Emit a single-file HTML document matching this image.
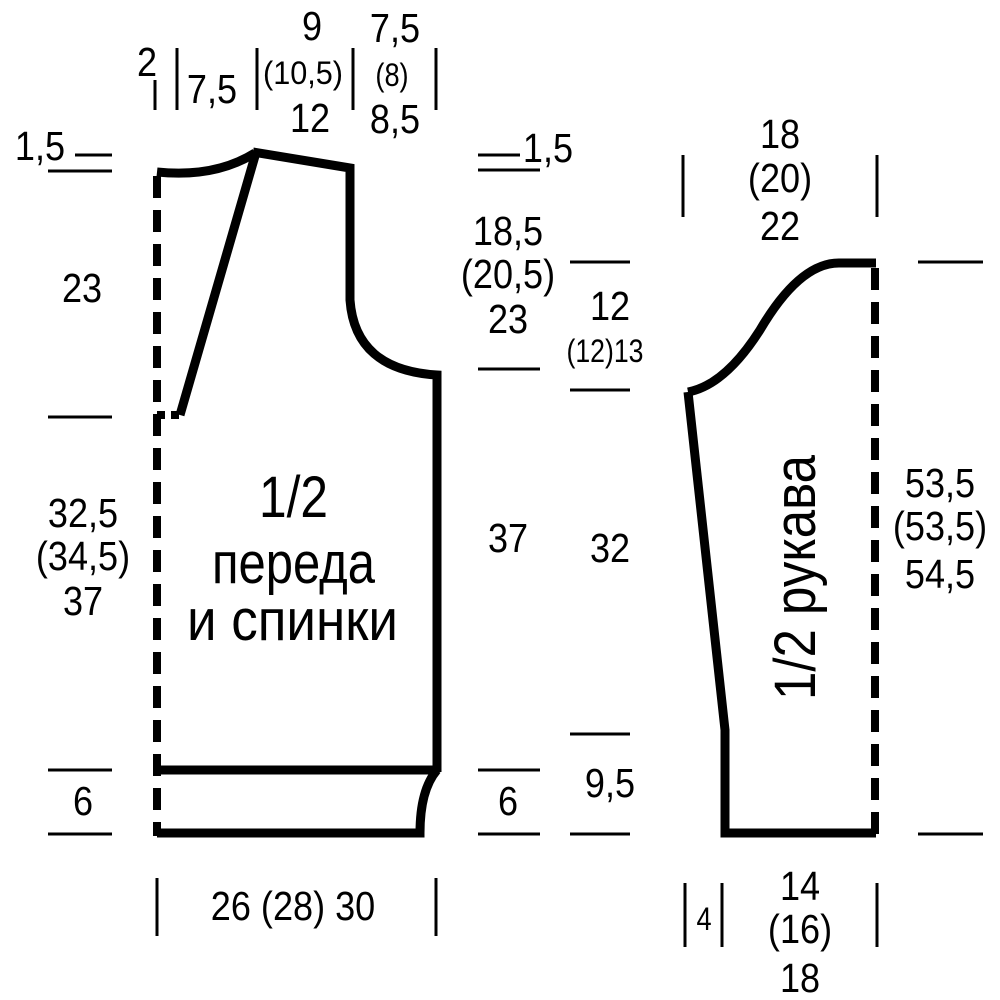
<!DOCTYPE html>
<html><head><meta charset="utf-8"><style>
html,body{margin:0;padding:0;background:#fff;}
svg{display:block;}
text{font-family:"Liberation Sans",sans-serif;fill:#000;}
</style></head><body>
<svg width="1000" height="1000" viewBox="0 0 1000 1000" xmlns="http://www.w3.org/2000/svg">
<g stroke="#000" fill="none" stroke-width="9" stroke-linejoin="miter">
<path d="M157,172 Q215,178 255,153"/>
<path d="M253,152 L350,168 L350,300 Q355,370 437,375 L437,772"/>
<path d="M255,156 L180,415"/>
<path d="M157,770 L437,770"/>
<path d="M437,770 Q420,790 420,833 L157,833"/>
<path d="M688,392 Q725,385 760,330 Q800,262 840,263 L876,263"/>
<path d="M688,392 L725,730 L725,833 L876,833"/>
</g>
<g stroke="#000" fill="none" stroke-width="8" stroke-dasharray="22,12">
<path d="M157,176 L157,836"/>
<path d="M875,268 L875,836"/>
<path d="M157,415 L182,415" stroke-dasharray="8,6"/>
</g>
<g stroke="#000" stroke-width="3">
<line x1="75" y1="155" x2="112" y2="155"/>
<line x1="48" y1="171" x2="112" y2="171"/>
<line x1="48" y1="417" x2="112" y2="417"/>
<line x1="48" y1="770" x2="112" y2="770"/>
<line x1="48" y1="834" x2="112" y2="834"/>
<line x1="478" y1="155" x2="520" y2="155"/>
<line x1="478" y1="170" x2="540" y2="170"/>
<line x1="478" y1="369" x2="540" y2="369"/>
<line x1="478" y1="770" x2="540" y2="770"/>
<line x1="478" y1="834" x2="540" y2="834"/>
<line x1="570" y1="262" x2="630" y2="262"/>
<line x1="570" y1="390" x2="630" y2="390"/>
<line x1="570" y1="734" x2="630" y2="734"/>
<line x1="570" y1="834" x2="630" y2="834"/>
<line x1="918" y1="262" x2="983" y2="262"/>
<line x1="918" y1="834" x2="983" y2="834"/>
<line x1="155" y1="80" x2="155" y2="110"/>
<line x1="177" y1="48" x2="177" y2="110"/>
<line x1="257" y1="48" x2="257" y2="110"/>
<line x1="353" y1="48" x2="353" y2="110"/>
<line x1="436" y1="48" x2="436" y2="110"/>
<line x1="157" y1="878" x2="157" y2="936"/>
<line x1="436" y1="878" x2="436" y2="936"/>
<line x1="683" y1="155" x2="683" y2="217"/>
<line x1="877" y1="155" x2="877" y2="217"/>
<line x1="685" y1="883" x2="685" y2="947"/>
<line x1="722" y1="883" x2="722" y2="947"/>
<line x1="877" y1="883" x2="877" y2="947"/>
</g>
<g font-size="41" text-anchor="middle">
<text transform="matrix(0.88,0,0,1,147,76)">2</text>
<text transform="matrix(0.88,0,0,1,212,103)">7,5</text>
<text transform="matrix(0.88,0,0,1,312,40)">9</text>
<text transform="matrix(0.88,0,0,1,310,132)">12</text>
<text transform="matrix(0.88,0,0,1,395,42)">7,5</text>
<text transform="matrix(0.88,0,0,1,395,133)">8,5</text>
<text transform="matrix(0.88,0,0,1,40,160)">1,5</text>
<text transform="matrix(0.88,0,0,1,548,162)">1,5</text>
<text transform="matrix(0.88,0,0,1,82,302)">23</text>
<text transform="matrix(0.88,0,0,1,83,527)">32,5</text>
<text transform="matrix(0.88,0,0,1,83,570)">(34,5)</text>
<text transform="matrix(0.88,0,0,1,83,615)">37</text>
<text transform="matrix(0.88,0,0,1,508,245)">18,5</text>
<text transform="matrix(0.88,0,0,1,508,288)">(20,5)</text>
<text transform="matrix(0.88,0,0,1,508,333)">23</text>
<text transform="matrix(0.88,0,0,1,610,320)">12</text>
<text transform="matrix(0.88,0,0,1,508,552)">37</text>
<text transform="matrix(0.88,0,0,1,610,562)">32</text>
<text transform="matrix(0.88,0,0,1,83,815)">6</text>
<text transform="matrix(0.88,0,0,1,508,815)">6</text>
<text transform="matrix(0.88,0,0,1,610,797)">9,5</text>
<text transform="matrix(0.88,0,0,1,293,920)">26 (28) 30</text>
<text transform="matrix(0.88,0,0,1,780,148)">18</text>
<text transform="matrix(0.88,0,0,1,780,192)">(20)</text>
<text transform="matrix(0.88,0,0,1,780,240)">22</text>
<text transform="matrix(0.88,0,0,1,940,497)">53,5</text>
<text transform="matrix(0.88,0,0,1,940,540)">(53,5)</text>
<text transform="matrix(0.88,0,0,1,940,588)">54,5</text>
<text transform="matrix(0.88,0,0,1,800,900)">14</text>
<text transform="matrix(0.88,0,0,1,800,943)">(16)</text>
<text transform="matrix(0.88,0,0,1,800,992)">18</text>
</g>
<g font-size="32" text-anchor="middle">
<text x="303" y="84" textLength="80" lengthAdjust="spacingAndGlyphs">(10,5)</text>
<text transform="matrix(0.85,0,0,1,392,86)">(8)</text>
<text x="605" y="362" textLength="77" lengthAdjust="spacingAndGlyphs">(12)13</text>
<text transform="matrix(0.85,0,0,1,704,930)">4</text>
</g>
<g font-size="58">
<text x="259" y="517" textLength="69" lengthAdjust="spacingAndGlyphs">1/2</text>
<text x="212" y="583" textLength="163" lengthAdjust="spacingAndGlyphs">переда</text>
<text x="187" y="640" textLength="211" lengthAdjust="spacingAndGlyphs">и спинки</text>
<text transform="translate(815,700) rotate(-90)" x="0" y="0" textLength="245" lengthAdjust="spacingAndGlyphs">1/2 рукава</text>
</g>
</svg>
</body></html>
